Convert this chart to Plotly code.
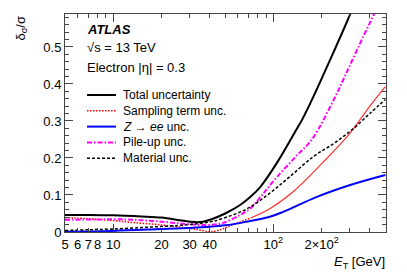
import plotly.graph_objects as go
import math

# ---- data ----
et_total = [5, 7, 10, 15, 20, 26, 30, 35, 42, 50, 62, 72, 83, 105, 139, 151, 174, 226, 302, 400, 500]
total = [0.046, 0.046, 0.045, 0.042, 0.039, 0.032, 0.028, 0.027, 0.036, 0.050, 0.073, 0.095, 0.122, 0.186, 0.276, 0.303, 0.357, 0.465, 0.589, 0.72, 0.85]

et_samp = [5, 7, 10, 13, 20, 30, 35, 40, 45, 54, 72]
samp = [0.039, 0.036, 0.031, 0.026, 0.019, 0.010, 0.005, 0.001, 0.004, 0.017, 0.038]
et_samp_hi = [72, 95, 134, 206, 302, 400, 500]
samp_hi = [0.038, 0.063, 0.110, 0.190, 0.268, 0.340, 0.393]

et_zee = [5, 10, 20, 30, 40, 50, 65, 95, 116, 187, 302, 500]
zee = [0.001, 0.003, 0.008, 0.011, 0.014, 0.018, 0.026, 0.041, 0.055, 0.095, 0.127, 0.154]

et_pu = [5, 8, 12, 16, 20, 25, 30, 35, 40, 48, 62, 72, 85, 105, 139, 174, 238, 290, 366, 425, 500]
pileup = [0.033, 0.034, 0.034, 0.031, 0.028, 0.024, 0.021, 0.019, 0.019, 0.024, 0.046, 0.064, 0.100, 0.148, 0.205, 0.250, 0.357, 0.436, 0.530, 0.589, 0.660]

et_mat = [5, 7, 10, 15, 20, 26, 30, 40, 47, 68, 95, 127, 178, 240, 317, 400, 500]
material = [0.004, 0.006, 0.008, 0.012, 0.015, 0.018, 0.020, 0.027, 0.035, 0.062, 0.105, 0.150, 0.204, 0.240, 0.280, 0.320, 0.358]

legend_labels = ["Total uncertainty", "Sampling term unc.", "<i>Z</i> → <i>ee</i> unc.",
                 "Pile-up unc.", "Material unc."]

x_tickvals = [5, 6, 7, 8, 10, 20, 30, 40, 100, 200]
x_ticktext = ["5", "6", "7", "8", "10", "20", "30", "40", "10<sup>2</sup>", "2×10<sup>2</sup>"]
x_minorvals = [9, 50, 60, 70, 80, 90, 300, 400, 500]
x_decades = [10, 100]
y_tickvals = [0, 0.1, 0.2, 0.3, 0.4, 0.5]
y_ticktext = ["0", "0.1", "0.2", "0.3", "0.4", "0.5"]

FONT = "Liberation Sans, Arial, Helvetica, sans-serif"
AXC = "#444444"

styles = [
    dict(color="black", width=2),
    dict(color="#ff0000", width=1.5, dash="1.5px,1.5px"),
    dict(color="#0000ff", width=2),
    dict(color="#ff00ff", width=2, dash="5px,2px,1.5px,2px"),
    dict(color="black", width=1.5, dash="3px,2px"),
]

fig = go.Figure()
fig.add_trace(go.Scatter(x=et_total, y=total, mode="lines", name=legend_labels[0],
                         line=dict(**styles[0], shape="spline")))
fig.add_trace(go.Scatter(x=et_samp, y=samp, mode="lines", name=legend_labels[1],
                         line=dict(**styles[1], shape="spline")))
fig.add_trace(go.Scatter(x=et_samp_hi, y=samp_hi, mode="lines", name=legend_labels[1],
                         line=dict(color="#ff3030", width=1.2, shape="spline")))
fig.add_trace(go.Scatter(x=et_zee, y=zee, mode="lines", name=legend_labels[2],
                         line=dict(**styles[2], shape="spline")))
fig.add_trace(go.Scatter(x=et_pu, y=pileup, mode="lines", name=legend_labels[3],
                         line=dict(**styles[3], shape="spline")))
fig.add_trace(go.Scatter(x=et_mat, y=material, mode="lines", name=legend_labels[4],
                         line=dict(**styles[4], shape="spline")))
# helper trace for the decade-tick axis
fig.add_trace(go.Scatter(x=et_zee[:1], y=zee[:1], xaxis="x2", mode="lines",
                         hoverinfo="skip", line=dict(color="rgba(0,0,0,0)")))

# page body has an 8px margin: figure is shrunk so the plot area lands at
# x 65..386, y 14..232 of the window
W, H = 399, 269
ML, MT, MR, MB = 57, 6, 21, 45
PW, PH = W - ML - MR, H - MT - MB

xr = [math.log10(5), math.log10(505)]
fig.update_layout(
    width=W, height=H,
    margin=dict(l=ML, r=MR, t=MT, b=MB, pad=0),
    paper_bgcolor="white", plot_bgcolor="white",
    font=dict(family=FONT, size=13, color="black"),
    showlegend=False,
    xaxis=dict(type="log", range=xr, showgrid=False, zeroline=False,
               showline=True, linecolor=AXC, linewidth=1, mirror="ticks",
               ticks="inside", ticklen=4, tickcolor=AXC,
               tickmode="array", tickvals=x_tickvals, ticktext=x_ticktext,
               tickfont=dict(family=FONT, size=13),
               minor=dict(tickmode="array", tickvals=x_minorvals, ticks="inside",
                          ticklen=4, tickcolor=AXC, showgrid=False)),
    xaxis2=dict(type="log", range=xr, overlaying="x", anchor="y", showgrid=False,
                zeroline=False, showline=False, mirror="ticks",
                ticks="inside", ticklen=8, tickcolor=AXC,
                tickmode="array", tickvals=x_decades, showticklabels=False),
    yaxis=dict(range=[0, 0.589], showgrid=False, zeroline=False,
               showline=True, linecolor=AXC, linewidth=1, mirror="ticks",
               ticks="inside", ticklen=8, tickcolor=AXC,
               tickmode="array", tickvals=y_tickvals, ticktext=y_ticktext,
               tickfont=dict(family=FONT, size=13),
               minor=dict(dtick=0.02, ticks="inside", ticklen=4, tickcolor=AXC, showgrid=False)),
)

def px(xp):
    return (xp - 65) / PW

def py(yp):
    return (232 - yp) / PH

fig.add_annotation(text="<b><i>ATLAS</i></b>", xref="paper", yref="paper",
                   x=px(85), y=py(29), xanchor="left", yanchor="middle",
                   showarrow=False, font=dict(family=FONT, size=13))
fig.add_annotation(text="√s = 13 TeV", xref="paper", yref="paper",
                   x=px(85), y=py(48), xanchor="left", yanchor="middle",
                   showarrow=False, font=dict(family=FONT, size=13))
fig.add_annotation(text="Electron |η| = 0.3", xref="paper", yref="paper",
                   x=px(85), y=py(68), xanchor="left", yanchor="middle",
                   showarrow=False, font=dict(family=FONT, size=13))
fig.add_annotation(text="δ<sub>σ</sub>/σ", xref="paper", yref="paper",
                   x=px(21), y=py(14), xanchor="center", yanchor="top", textangle=-90,
                   showarrow=False, font=dict(family=FONT, size=13))
fig.add_annotation(text="<i>E</i><sub>T</sub> [GeV]", xref="paper", yref="paper",
                   x=px(387), y=py(263), xanchor="right", yanchor="middle",
                   showarrow=False, font=dict(family=FONT, size=13))

# hand-made legend (rows 15.8 px apart, as in the reference)
for i, (lab, st) in enumerate(zip(legend_labels, styles)):
    yrow = 95 + 15.8 * i
    fig.add_shape(type="line", xref="paper", yref="paper",
                  x0=px(87), x1=px(116), y0=py(yrow), y1=py(yrow),
                  line=dict(color=st["color"], width=st["width"], dash=st.get("dash", "solid")))
    fig.add_annotation(text=lab, xref="paper", yref="paper",
                       x=px(121), y=py(yrow), xanchor="left", yanchor="middle",
                       showarrow=False, font=dict(family=FONT, size=12))

fig.write_html("out.html")
